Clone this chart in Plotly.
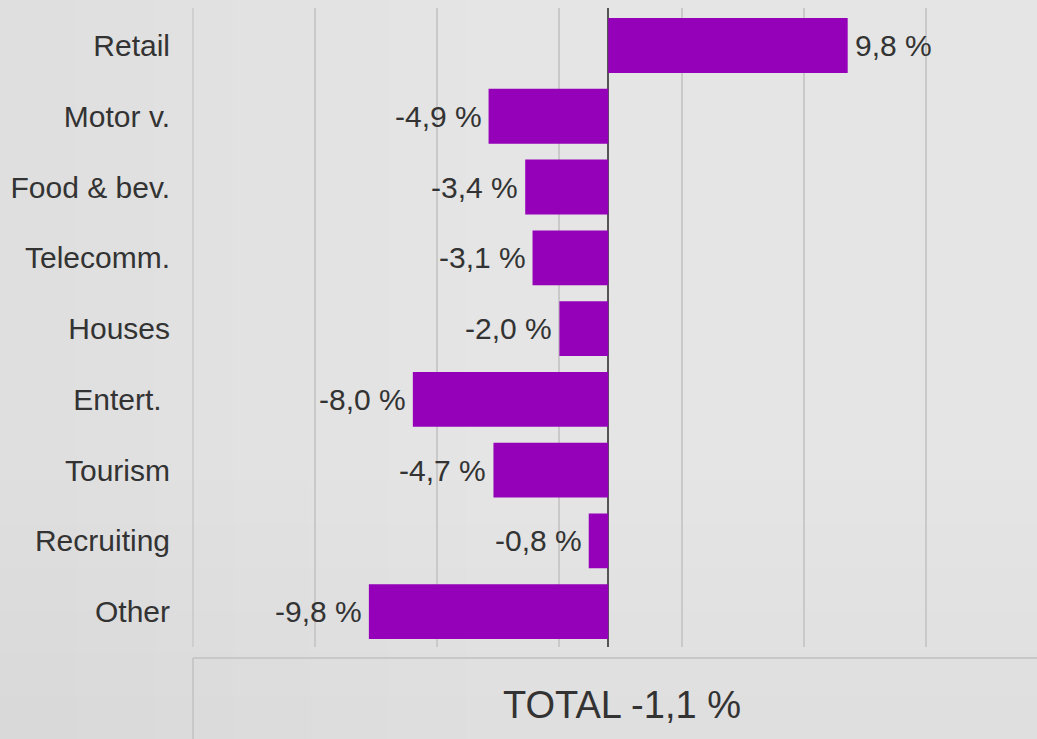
import plotly.graph_objects as go

# Change by sector, percent
categories = ["Retail", "Motor v.", "Food & bev.", "Telecomm.", "Houses",
              "Entert.\u00a0", "Tourism", "Recruiting", "Other"]
values = [9.8, -4.9, -3.4, -3.1, -2.0, -8.0, -4.7, -0.8, -9.8]
total_change = -1.1

BAR_COLOR = "#9500b9"
TEXT_COLOR = "#333333"
GRID_COLOR = "#c9c9c9"
FONT = "Liberation Sans, Arial, sans-serif"

X_MIN, X_MAX, X_STEP = -17.04, 17.55, 5

W, H = 1037, 739
ML, MR, MT, MB = 192, 0, 8, 92
PW, PH = W - ML - MR, H - MT - MB


def fmt_pct(v):
    return f"{v:.1f}".replace(".", ",") + " %"


def px_to_paper_x(px):
    return (px - ML) / PW


def px_to_paper_y(py):
    return (H - MB - py) / PH


fig = go.Figure(
    go.Bar(
        x=values,
        y=categories,
        orientation="h",
        marker=dict(color=BAR_COLOR, line=dict(width=0)),
        hoverinfo="skip",
    )
)

# value labels just past the end of each bar
annotations = []
for cat, v in zip(categories, values):
    annotations.append(dict(
        x=v, y=cat, xref="x", yref="y",
        text=fmt_pct(v), showarrow=False,
        xanchor="left" if v >= 0 else "right",
        xshift=5 if v >= 0 else -5,
        font=dict(size=30, color=TEXT_COLOR, family=FONT),
    ))

# total in the box under the chart
annotations.append(dict(
    x=px_to_paper_x(622), y=px_to_paper_y(705), xref="paper", yref="paper",
    text="TOTAL " + fmt_pct(total_change), showarrow=False,
    xanchor="center", yanchor="middle",
    font=dict(size=38, color=TEXT_COLOR, family=FONT),
))

# soft vignette: darker towards the left and bottom edges
x_left, x_right = px_to_paper_x(0), px_to_paper_x(W)
y_bot, y_top = px_to_paper_y(H), px_to_paper_y(0)
shapes = []
n_steps = 6
for k in range(1, n_steps + 1):
    frac = k / n_steps
    shapes.append(dict(
        type="rect", xref="paper", yref="paper", layer="below",
        x0=x_left, x1=px_to_paper_x(W * 0.45 * frac), y0=y_bot, y1=y_top,
        fillcolor="rgba(0,0,0,0.005)", line=dict(width=0),
    ))
    shapes.append(dict(
        type="rect", xref="paper", yref="paper", layer="below",
        x0=x_left, x1=x_right, y0=y_bot, y1=px_to_paper_y(H - H * 0.35 * frac),
        fillcolor="rgba(0,0,0,0.004)", line=dict(width=0),
    ))

# first gridline sits on the left edge of the plot area
shapes.append(dict(
    type="line", xref="x", yref="paper", layer="below",
    x0=-17, x1=-17, y0=0, y1=1,
    line=dict(color=GRID_COLOR, width=1.5),
))

box_color = "#c8c8c8"
box_top = px_to_paper_y(658)
shapes += [
    dict(type="line", xref="paper", yref="paper", x0=px_to_paper_x(193), x1=1,
         y0=box_top, y1=box_top, line=dict(color=box_color, width=2)),
    dict(type="line", xref="paper", yref="paper",
         x0=px_to_paper_x(193), x1=px_to_paper_x(193),
         y0=box_top, y1=y_bot - 0.05, line=dict(color=box_color, width=2)),
]

fig.update_layout(
    width=W, height=H,
    margin=dict(l=ML, r=MR, t=MT, b=MB),
    paper_bgcolor="#e5e5e5",
    plot_bgcolor="rgba(0,0,0,0)",
    bargap=0.225,
    showlegend=False,
    font=dict(family=FONT, color=TEXT_COLOR, size=30),
    annotations=annotations,
    shapes=shapes,
    xaxis=dict(
        range=[X_MIN, X_MAX],
        tick0=-17, dtick=X_STEP,
        showgrid=True, gridcolor=GRID_COLOR, gridwidth=1.5,
        showticklabels=False, ticks="",
        zeroline=True, zerolinecolor="#555555", zerolinewidth=1.5,
        showline=False, fixedrange=True,
    ),
    yaxis=dict(
        range=[len(categories) - 0.5, -0.53],
        showgrid=False, zeroline=False, showline=False,
        ticks="", ticklabelstandoff=21,
        tickfont=dict(size=30, color=TEXT_COLOR, family=FONT),
        fixedrange=True,
    ),
)

fig.write_html("out.html")
